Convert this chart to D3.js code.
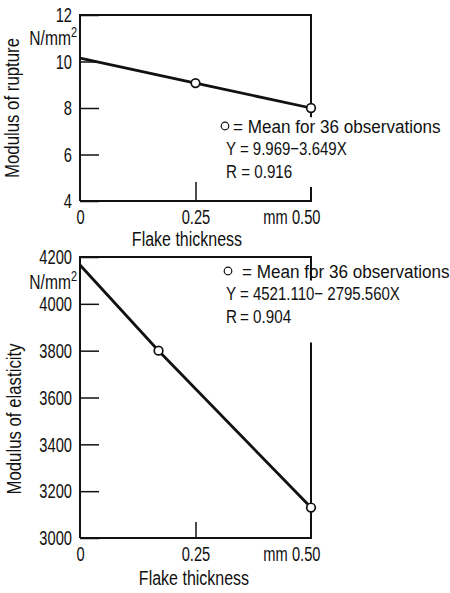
<!DOCTYPE html>
<html>
<head>
<meta charset="utf-8">
<script src="https://cdn.jsdelivr.net/npm/d3@7/dist/d3.min.js"></script>
<style>
  body { margin: 0; background: #fff; }
  svg { display: block; font-family: "Liberation Sans", Arial, sans-serif; }
  text { fill: #111; }
</style>
</head>
<body>
<svg id="chart" width="450" height="593"></svg>
<script>
// flake thickness (mm) vs strength
const ruptureX = [0, 0.25, 0.5];
const ruptureY = [10.15, 9.07, 8.0];
const ruptureMarks = [1, 2]; // which points carry a circle
const ruptureTicks = [4, 6, 8, 10, 12];
const ruptureLegend = [["", "= Mean for 36 observations"], ["", "Y = 9.969\u22123.649X"], ["", "R = 0.916"]];

const elastX = [0, 0.17, 0.5];
const elastY = [4166, 3800, 3130];
const elastMarks = [1, 2];
const elastTicks = [3000, 3200, 3400, 3600, 3800, 4000, 4200];
const elastLegend = [["", "= Mean for 36 observations"], ["Y", "= 4521.110\u2212 2795.560X"], ["R", "=  0.904"]];

const xTicks = [0, 0.25, 0.5];
const xTickLabels = ["0", "0.25", "mm 0.50"];

const svg = d3.select("#chart");
const x = d3.scaleLinear().domain([0, 0.5]).range([80, 311]);

// the original lettering is a narrow DIN face: squeeze text horizontally
function squeeze(sel, s) {
  sel.each(function () {
    const a = this.getAttribute("text-anchor") || "start";
    this.style.transformBox = "fill-box";
    this.style.transformOrigin = a === "end" ? "right center" : a === "middle" ? "center" : "left center";
    this.style.transform = `scaleX(${s})`;
  });
}

function panel(opts) {
  const g = svg.append("g");
  const y = opts.y;
  const data = opts.xs.map((v, i) => [v, opts.ys[i]]);
  const [lo, hi] = y.domain();

  // frame: left, top, bottom, and the broken right side
  const frame = d3.path();
  frame.moveTo(x(0), y(lo)); frame.lineTo(x(0), y(hi)); frame.lineTo(x(0.5), y(hi));
  frame.lineTo(x(0.5), y(opts.gap[0]));
  frame.moveTo(x(0.5), y(opts.gap[1])); frame.lineTo(x(0.5), y(lo)); frame.lineTo(x(0), y(lo));
  g.append("path").attr("d", frame.toString()).attr("fill", "none")
    .attr("stroke", "#111").attr("stroke-width", 2);

  // y axis: inner ticks, labels on the left
  const yAxis = d3.axisLeft(y).tickValues(opts.ticks).tickSize(-19).tickPadding(8).tickFormat(d3.format("d"));
  const ya = g.append("g").attr("transform", `translate(${x(0)},0)`).call(yAxis);
  ya.select(".domain").remove();
  ya.selectAll("line").attr("stroke", "#111").attr("stroke-width", 1.5);
  ya.selectAll("text").attr("font-size", 21).attr("font-family", null).attr("fill", "#111")
    .attr("text-anchor", "end").call(squeeze, 0.7);

  // x axis: single inner tick at 0.25
  const xAxis = d3.axisBottom(x).tickValues(xTicks).tickSize(-opts.xTick).tickPadding(6)
    .tickFormat((d, i) => xTickLabels[i]);
  const xa = g.append("g").attr("transform", `translate(0,${y(lo)})`).call(xAxis);
  xa.select(".domain").remove();
  xa.selectAll("line").attr("stroke", "#111").attr("stroke-width", 1.5)
    .attr("opacity", d => (d === 0.25 ? 1 : 0));
  xa.selectAll("text").attr("font-size", 21).attr("font-family", null).attr("fill", "#111")
    .attr("dy", "0.8em")
    .attr("text-anchor", (d, i) => (i === 2 ? "end" : "middle"))
    .attr("dx", (d, i) => (i === 2 ? 9 : 0))
    .call(squeeze, 0.7);

  // unit label
  const unit = g.append("text").attr("x", 77).attr("y", opts.unitY)
    .attr("text-anchor", "end").attr("font-size", 20);
  unit.append("tspan").text("N/mm");
  unit.append("tspan").attr("dy", -8).attr("font-size", 14).text("2");
  unit.call(squeeze, 0.78);

  // axis titles
  g.append("text").attr("transform", `translate(${opts.titleX},${opts.titleY}) rotate(-90) scale(0.84,1)`)
    .attr("text-anchor", "middle").attr("font-size", 20).text(opts.yTitle);
  g.append("text").attr("x", opts.xTitleX).attr("y", opts.xTitleY)
    .attr("text-anchor", "middle").attr("font-size", 20).text("Flake thickness")
    .call(squeeze, 0.8);

  // regression line and means
  g.append("path").datum(data)
    .attr("d", d3.line().x(d => x(d[0])).y(d => y(d[1])))
    .attr("fill", "none").attr("stroke", "#111").attr("stroke-width", 2.8);
  g.append("g").selectAll("circle").data(opts.marks.map(i => data[i])).join("circle")
    .attr("cx", d => x(d[0])).attr("cy", d => y(d[1])).attr("r", 4.3)
    .attr("fill", "#fff").attr("stroke", "#111").attr("stroke-width", 1.7);

  // legend: open circle key, then the three lines
  g.append("circle").attr("cx", opts.key[0]).attr("cy", opts.key[1]).attr("r", 3.8)
    .attr("fill", "#fff").attr("stroke", "#111").attr("stroke-width", 1.2);
  opts.legend.forEach((row, i) => {
    const yy = opts.legY + i * 22.5;
    if (row[0]) {
      g.append("text").attr("x", 226).attr("y", yy).attr("font-size", 19).text(row[0]).call(squeeze, 0.8);
    }
    g.append("text").attr("x", opts.legX[i]).attr("y", yy).attr("font-size", 19)
      .text(row[1]).call(squeeze, opts.legS[i]);
  });
  return g;
}

panel({
  xs: ruptureX, ys: ruptureY, marks: ruptureMarks, ticks: ruptureTicks,
  y: d3.scaleLinear().domain([4, 12]).range([201, 15]),
  gap: [7.6, 4.6], xTick: 19, unitY: 45,
  yTitle: "Modulus of rupture", titleX: 19, titleY: 108,
  xTitleX: 187, xTitleY: 246,
  legend: ruptureLegend, key: [225, 126], legY: 133, legX: [233, 226, 226], legS: [0.9, 0.79, 0.8]
});

panel({
  xs: elastX, ys: elastY, marks: elastMarks, ticks: elastTicks,
  y: d3.scaleLinear().domain([3000, 4200]).range([538, 257]),
  gap: [4100, 3835], xTick: 16, unitY: 289,
  yTitle: "Modulus of elasticity", titleX: 21, titleY: 419,
  xTitleX: 194, xTitleY: 585,
  legend: elastLegend, key: [228, 271], legY: 278, legX: [242, 240, 240], legS: [0.9, 0.79, 0.8]
});
</script>
</body>
</html>
